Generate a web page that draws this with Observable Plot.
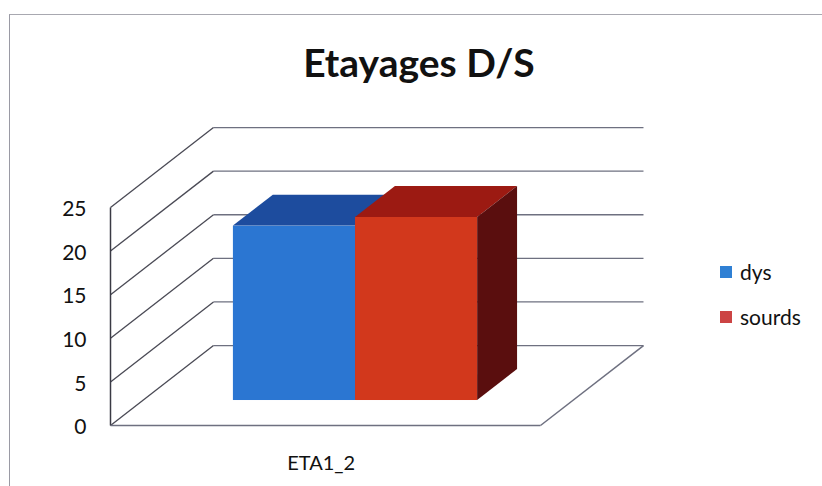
<!DOCTYPE html>
<html>
<head>
<meta charset="utf-8">
<script src="https://cdn.jsdelivr.net/npm/d3@7"></script>
<script src="https://cdn.jsdelivr.net/npm/@observablehq/plot@0.6"></script>
<style>
  html, body { margin: 0; padding: 0; background: #fff; }
  #wrap { position: relative; width: 822px; height: 486px; overflow: hidden; font-family: Lato, "Open Sans", sans-serif; }
  #frame { position: absolute; left: 9px; top: 14px; width: 830px; height: 500px; border-left: 1.5px solid #9a9aa4; border-top: 1.5px solid #a8a8b0; }
  #title { position: absolute; left: 0; width: 838px; top: 39px; text-align: center; font-weight: 700; font-size: 39px; color: #111; }
  #chart { position: absolute; left: 0; top: 0; }
  .leg { position: absolute; left: 720px; font-size: 21px; color: #111; display: flex; align-items: center; }
  .leg span.sw { display: inline-block; width: 12px; height: 12px; margin-right: 8px; }
</style>
</head>
<body>
<div id="wrap">
  <div id="frame"></div>
  <div id="title">Etayages D/S</div>
  <div id="chart"></div>
  <div id="legend"></div>
</div>
<script>
// ---- data ----
const title = "Etayages D/S";
const categories = ["ETA1_2"];
const series = ["dys", "sourds"];
const values = [20, 21];            // dys, sourds for ETA1_2
const yTicks = [0, 5, 10, 15, 20, 25];

// colours per series: front, top, side, legend
const frontColors = ["#2b76d2", "#d2381c"];
const topColors = ["#1d4c9e", "#9c1a12"];
const sideColors = ["#173e86", "#5a0e0e"];
const legendColors = ["#2f80d4", "#cc4444"];

// ---- 3D layout (oblique projection) ----
const DX = 0.2395;   // full depth, in x units (floor width = 1)
const DY = 9.17;     // full depth, in value units
const f1 = 0.3125;   // depth of bar front face
const f2 = 0.70;     // depth of bar back face
const groupWidth = 0.568;

const xCat = d3.scaleBand().domain(categories).range([0, 1]);
const xSer = d3.scaleBand().domain(series).range([0.5 - groupWidth / 2, 0.5 + groupWidth / 2]);

const bars = series.map((s, i) => {
  const x1 = xCat(categories[0]) + xSer(s) * xCat.bandwidth() - 0.005;
  const x2 = x1 + xSer.bandwidth() * xCat.bandwidth();
  return {s, i, v: values[i], x1, x2};
});

const marks = [];

// back wall gridlines
const back = yTicks.map(t => ({x1: DX, x2: 1 + DX, y: t + DY}));
marks.push(Plot.link(back, {x1: "x1", x2: "x2", y1: "y", y2: "y", stroke: "#6e7080", strokeWidth: 1.3}));
// side wall diagonals
const diag = yTicks.map(t => ({x1: 0, y1: t, x2: DX, y2: t + DY}));
marks.push(Plot.link(diag, {x1: "x1", y1: "y1", x2: "x2", y2: "y2", stroke: "#4a4a55", strokeWidth: 1.3}));
// front vertical axis line
marks.push(Plot.link([{x: 0, y1: 0, y2: yTicks[yTicks.length - 1]}], {x1: "x", x2: "x", y1: "y1", y2: "y2", stroke: "#3a3a44", strokeWidth: 1.5}));
// floor front and right edges
marks.push(Plot.link([{x1: 0, y1: 0, x2: 1, y2: 0}, {x1: 1, y1: 0, x2: 1 + DX, y2: DY}],
  {x1: "x1", y1: "y1", x2: "x2", y2: "y2", stroke: "#6e7080", strokeWidth: 1.5}));

// bars
for (const b of bars) {
  const fx1 = b.x1 + f1 * DX, fx2 = b.x2 + f1 * DX;
  const bx1 = b.x1 + f2 * DX, bx2 = b.x2 + f2 * DX;
  // front face
  marks.push(Plot.rect([b], {x1: () => fx1, x2: () => fx2, y1: () => f1 * DY, y2: d => d.v + f1 * DY, fill: frontColors[b.i]}));
  // top face
  marks.push(Plot.areaX([{y: b.v + f1 * DY, a: fx1, c: fx2}, {y: b.v + f2 * DY, a: bx1, c: bx2}],
    {y: "y", x1: "a", x2: "c", fill: topColors[b.i]}));
  // side face
  marks.push(Plot.areaY([{x: fx2, lo: f1 * DY, hi: b.v + f1 * DY}, {x: bx2, lo: f2 * DY, hi: b.v + f2 * DY}],
    {x: "x", y1: "lo", y2: "hi", fill: sideColors[b.i]}));
}

// axes
marks.push(Plot.axisY(yTicks, {tickSize: 0, tickPadding: 24, fontSize: 21, fill: "#111", label: null, dy: 2}));
marks.push(Plot.text(categories, {x: (d) => xCat(d) + xCat.bandwidth() / 2 - 0.01, y: 0, dy: 38, text: d => d, fontSize: 20, fill: "#111"}));

const chart = Plot.plot({
  width: 822,
  height: 486,
  marginLeft: 110,
  marginRight: 282,
  marginTop: 207,
  marginBottom: 61,
  style: {background: "transparent", fontFamily: "Lato, 'Open Sans', sans-serif", overflow: "visible"},
  x: {domain: [0, 1], axis: null},
  y: {domain: [0, 25], axis: null},
  marks
});
document.getElementById("chart").appendChild(chart);

// legend
const leg = document.getElementById("legend");
const legTops = [259, 304];
series.forEach((s, i) => {
  const el = document.createElement("div");
  el.className = "leg";
  el.style.top = legTops[i] + "px";
  el.innerHTML = `<span class="sw" style="background:${legendColors[i]}"></span>${s}`;
  leg.appendChild(el);
});
</script>
</body>
</html>
